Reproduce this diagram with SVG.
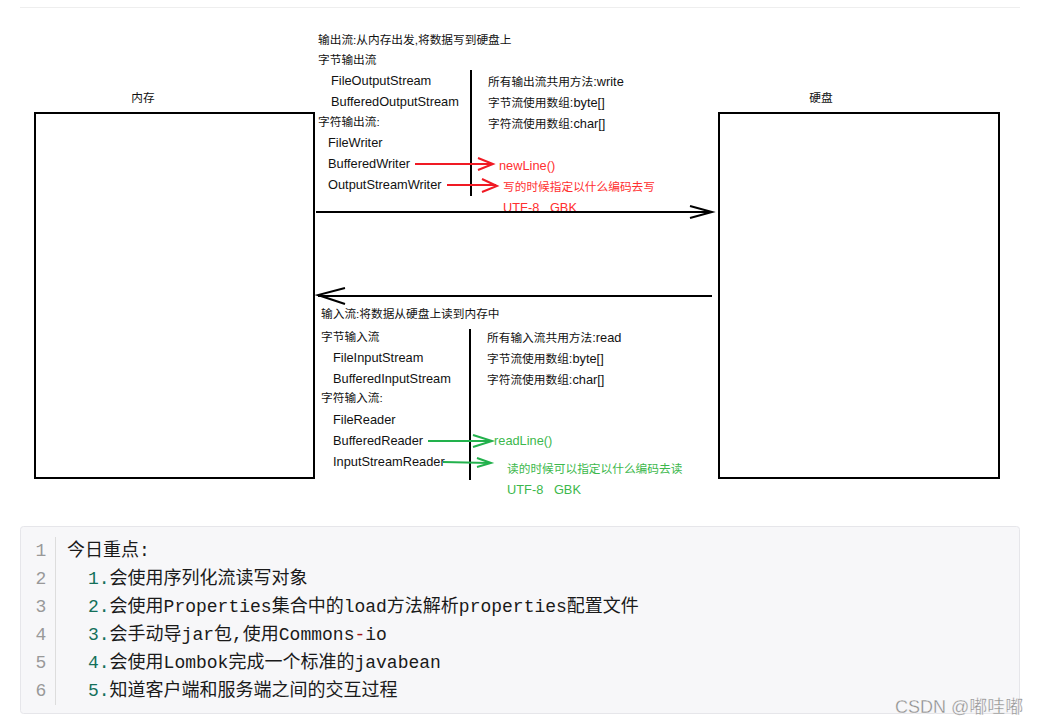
<svg xmlns="http://www.w3.org/2000/svg" width="1041" height="726" viewBox="0 0 1041 726">
<style>
.t{font-family:"Liberation Sans","Noto Sans CJK SC",sans-serif;font-size:12.8px;fill:#111;white-space:pre}
.c{font-size:11.7px}
.r{fill:#ff3030}
.g{fill:#3cb84c}
.box{fill:none;stroke:#000;stroke-width:2}
.ln{stroke:#000;stroke-width:2;fill:none}
.rl{stroke:#f01a24;stroke-width:2;fill:none}
.gl{stroke:#22b14c;stroke-width:2;fill:none}
.code{font-family:"Liberation Mono","Noto Sans CJK SC",monospace;font-size:18px;fill:#1a1a1a}
.num{font-family:"Liberation Mono",monospace;font-size:18px;fill:#999;text-anchor:middle}
.n{fill:#14705a}
.dr{fill:#a31515}
</style>
<rect width="1041" height="726" fill="#fff"/>
<line x1="20" y1="7.5" x2="1020" y2="7.5" stroke="#eee" stroke-width="1"/>

<g id="memory">
<rect class="box" x="35" y="113" width="279" height="365"/>
<text class="t c" x="143" y="101.5" text-anchor="middle">内存</text>
</g>
<g id="disk">
<rect class="box" x="719" y="113" width="280" height="365"/>
<text class="t c" x="821" y="101.5" text-anchor="middle">硬盘</text>
</g>

<g id="output-notes">
<text class="t c" x="318" y="44">输出流:从内存出发,将数据写到硬盘上</text>
<text class="t c" x="318" y="64">字节输出流</text>
<text class="t" x="331" y="84.5">FileOutputStream</text>
<text class="t" x="331" y="105.5">BufferedOutputStream</text>
<text class="t c" x="318" y="126">字符输出流:</text>
<text class="t" x="328" y="146.5">FileWriter</text>
<text class="t" x="328" y="167.5">BufferedWriter</text>
<text class="t" x="328" y="188.5">OutputStreamWriter</text>
<text class="t" x="488" y="85.5"><tspan class="c">所有输出流共用方法</tspan>:write</text>
<text class="t" x="488" y="106.5"><tspan class="c">字节流使用数组</tspan>:byte[]</text>
<text class="t" x="488" y="127.5"><tspan class="c">字符流使用数组</tspan>:char[]</text>
<text class="t r" x="499" y="169.5">newLine()</text>
<text class="t c r" x="503" y="190.5">写的时候指定以什么编码去写</text>
<text class="t r" x="503" y="211.5">UTF-8   GBK</text>
</g>

<g id="input-notes">
<text class="t c" x="321" y="318">输入流:将数据从硬盘上读到内存中</text>
<text class="t c" x="321" y="341">字节输入流</text>
<text class="t" x="333" y="361.5">FileInputStream</text>
<text class="t" x="333" y="382.5">BufferedInputStream</text>
<text class="t c" x="321" y="402">字符输入流:</text>
<text class="t" x="333" y="423.5">FileReader</text>
<text class="t" x="333" y="444.5">BufferedReader</text>
<text class="t" x="333" y="465.5">InputStreamReader</text>
<text class="t" x="487" y="341.5"><tspan class="c">所有输入流共用方法</tspan>:read</text>
<text class="t" x="487" y="362.5"><tspan class="c">字节流使用数组</tspan>:byte[]</text>
<text class="t" x="487" y="383.5"><tspan class="c">字符流使用数组</tspan>:char[]</text>
<text class="t g" x="494" y="445">readLine()</text>
<text class="t c g" x="507" y="473">读的时候可以指定以什么编码去读</text>
<text class="t g" x="507" y="493.5">UTF-8   GBK</text>
</g>

<g id="connectors">
<line class="ln" x1="471" y1="70" x2="471" y2="196"/>
<line class="ln" x1="470" y1="329" x2="470" y2="480"/>
<line class="ln" x1="316" y1="212" x2="711" y2="212"/>
<polyline class="ln" points="690,206 712,212 690,218"/>
<line class="ln" x1="318" y1="296" x2="712" y2="296"/>
<polyline class="ln" points="345,288 318,295 345,304"/>
<line class="rl" x1="415" y1="164" x2="492" y2="164"/>
<polyline class="rl" points="478,158 493,164 478,170"/>
<line class="rl" x1="447" y1="185" x2="496" y2="185"/>
<polyline class="rl" points="482,179 497,186 482,192"/>
<line class="gl" x1="428" y1="441" x2="491" y2="441"/>
<polyline class="gl" points="473,435 492,441 473,447"/>
<line class="gl" x1="443" y1="462" x2="489" y2="463"/>
<polyline class="gl" points="477,458 491,463 477,467"/>
</g>

<g id="code-block">
<rect x="20.5" y="526.5" width="999" height="187" rx="3" fill="#f7f7f9" stroke="#e6e6ea"/>
<line x1="55.5" y1="537" x2="55.5" y2="705" stroke="#ddd"/>
<text class="num" x="41" y="556">1</text>
<text class="num" x="41" y="584">2</text>
<text class="num" x="41" y="612">3</text>
<text class="num" x="41" y="640">4</text>
<text class="num" x="41" y="668">5</text>
<text class="num" x="41" y="696">6</text>
<text class="code" x="67" y="556">今日重点:</text>
<text class="code" x="88" y="584"><tspan class="n">1.</tspan>会使用序列化流读写对象</text>
<text class="code" x="88" y="612"><tspan class="n">2.</tspan>会使用Properties集合中的load方法解析properties配置文件</text>
<text class="code" x="88" y="640"><tspan class="n">3.</tspan>会手动导jar包,使用Commons<tspan class="dr">-</tspan>io</text>
<text class="code" x="88" y="668"><tspan class="n">4.</tspan>会使用Lombok完成一个标准的javabean</text>
<text class="code" x="88" y="696"><tspan class="n">5.</tspan>知道客户端和服务端之间的交互过程</text>
</g>

<text x="895" y="713" font-family="Liberation Sans,Noto Sans CJK SC,sans-serif" font-size="18" fill="#8c8c8c" stroke="#fff" stroke-width="0.3">CSDN @嘟哇嘟</text>
</svg>
